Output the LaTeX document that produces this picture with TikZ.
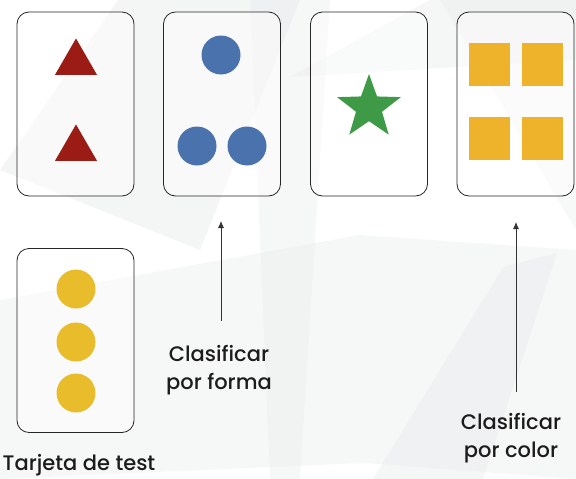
\documentclass[tikz,border=0pt]{standalone}
\usepackage{xcolor}
\usepackage{tikz}
\usepackage{fontspec}
\setmainfont{Poppins}[UprightFont=* Medium]
\usetikzlibrary{shapes.geometric,arrows.meta}

\definecolor{cardred}{HTML}{9B1B15}
\definecolor{cardblue}{HTML}{4A72AC}
\definecolor{cardgreen}{HTML}{3F9A48}
\definecolor{cardorange}{HTML}{EEB32B}
\definecolor{cardyellow}{HTML}{E8BC2A}
\definecolor{shard}{HTML}{E6E8E9}
\definecolor{ink}{HTML}{1C1C1C}

\begin{document}
\begin{tikzpicture}[x=1pt, y=-1pt,
    card/.style={draw=black!85, line width=0.8pt, rounded corners=12pt, fill=white, fill opacity=0.45,
                 minimum width=117pt, minimum height=184pt, inner sep=0pt},
    tri/.style={regular polygon, regular polygon sides=3, fill=cardred, minimum size=48.5pt, inner sep=0pt},
    dot/.style={circle, minimum size=39pt, inner sep=0pt},
    sq/.style={rectangle, fill=cardorange, minimum width=41pt, minimum height=43pt, inner sep=0pt},
    lbl/.style={text=ink, font=\fontsize{21}{28}\selectfont, align=center, anchor=north, inner sep=0pt},
    pointer/.style={draw=black!80, line width=0.8pt, -{Latex[length=7pt,width=6pt]}}]
      \useasboundingbox (0,0) rectangle (576,479);

      % Background shards
      \fill[shard, opacity=0.45] (0,170) -- (118,0) -- (300,0) -- (200,250) -- cycle;
      \fill[shard, opacity=0.35] (250,0) -- (330,0) -- (300,479) -- (270,479) -- cycle;
      \fill[shard, opacity=0.4] (290,77) -- (430,0) -- (576,0) -- (576,60) -- cycle;
      \fill[shard, opacity=0.35] (0,300) -- (360,235) -- (576,250) -- (576,479) -- (363,463) -- (0,479) -- cycle;
      \fill[shard, opacity=0.4] (503,267) -- (373,479) -- (483,479) -- (557,253) -- cycle;
      \fill[shard, opacity=0.3] (440,0) -- (576,0) -- (576,230) -- cycle;

      % Cards
      \node[card] (c1) at (75.5,104) {};
      \node[card] (c2) at (222,104) {};
      \node[card] (c3) at (369,104) {};
      \node[card] (c4) at (515.5,104) {};
      \node[card] (test) at (75.5,340.5) {};

      % Card 1: two triangles
      \node[tri] (t1) at (76,62.7) {};
      \node[tri] (t2) at (76,148.7) {};

      % Card 2: three circles
      \node[dot, fill=cardblue] (d1) at (221,55) {};
      \node[dot, fill=cardblue] (d2) at (197,146) {};
      \node[dot, fill=cardblue] (d3) at (247,146) {};

      % Card 3: one star
      \node[star, star points=5, star point ratio=2.45, fill=cardgreen, minimum size=67pt, inner sep=0pt] (s1) at (369,107.5) {};

      % Card 4: four squares
      \node[sq] (q1) at (489.5,64.5) {};
      \node[sq] (q2) at (542.5,64.5) {};
      \node[sq] (q3) at (489.5,138.5) {};
      \node[sq] (q4) at (542.5,138.5) {};

      % Test card: three circles
      \node[dot, fill=cardyellow] (y1) at (76,289) {};
      \node[dot, fill=cardyellow] (y2) at (76,342) {};
      \node[dot, fill=cardyellow] (y3) at (76,393) {};

      % Labels
      \node[lbl] (forma) at (219,345) {Clasificar\\por forma};
      \node[lbl] (color) at (511,413) {Clasificar\\por color};
      \node[lbl] (testlbl) at (79,454) {Tarjeta de test};

      % Arrows
      \coordinate (a1s) at (221,321);
      \coordinate (a1e) at (221,221);
      \coordinate (a2s) at (516,392);
      \coordinate (a2e) at (516,222);
      \draw[pointer] (a1s) -- (a1e);
      \draw[pointer] (a2s) -- (a2e);
\end{tikzpicture}
\end{document}
